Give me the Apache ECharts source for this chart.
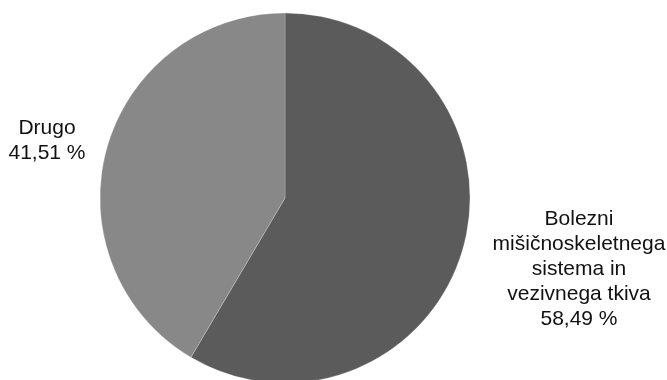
<!DOCTYPE html>
<html>
<head>
<meta charset="utf-8">
<script src="https://cdn.jsdelivr.net/npm/echarts@6/dist/echarts.min.js"></script>
<style>
  html, body { margin: 0; padding: 0; background: #fff; }
  #chart { width: 667px; height: 380px; }
</style>
</head>
<body>
<div id="chart"></div>
<script>
// Share of cases by diagnosis group (percent)
const categories = ['Bolezni\nmišičnoskeletnega\nsistema in\nvezivnega tkiva', 'Drugo'];
const values = [58.49, 41.51];
const colors = ['#5b5b5b', '#888888'];
// Label anchor points (centre of each text block)
const labelAnchors = [[579, 269], [47, 141]];

const chart = echarts.init(document.getElementById('chart'), null, { renderer: 'canvas' });

chart.setOption({
  animation: false,
  series: [{
    type: 'pie',
    center: [285, 198],
    radius: 185,
    startAngle: 90,
    clockwise: true,
    data: categories.map((name, i) => ({
      name: name,
      value: values[i],
      itemStyle: { color: colors[i] }
    })),
    itemStyle: { borderColor: 'rgba(255,255,255,0.35)', borderWidth: 0.6 },
    label: {
      show: true,
      position: 'outside',
      alignTo: 'none',
      overflow: 'none',
      width: 300,
      formatter: p => p.name + '\n' + p.value.toFixed(2).replace('.', ',') + ' %',
      fontFamily: 'Liberation Sans, Arial, sans-serif',
      fontSize: 21,
      lineHeight: 25,
      color: '#111',
      align: 'center'
    },
    labelLine: { show: false },
    labelLayout: function (params) {
      const a = labelAnchors[params.dataIndex];
      return { x: a[0], y: a[1], align: 'center', verticalAlign: 'middle', hideOverlap: false };
    },
    emphasis: { disabled: true }
  }]
});
</script>
</body>
</html>
